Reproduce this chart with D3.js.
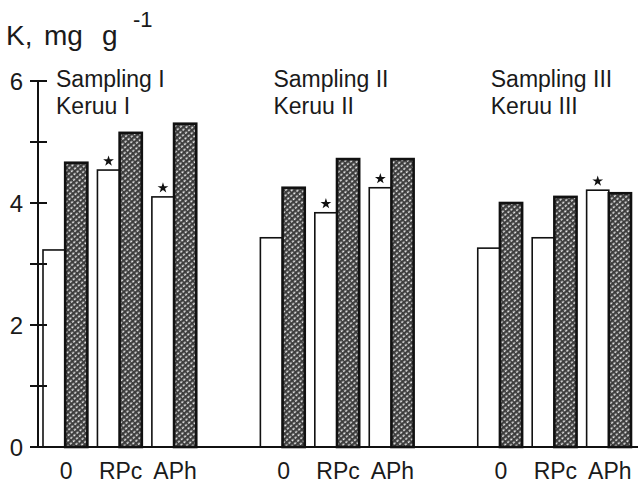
<!DOCTYPE html>
<html>
<head>
<meta charset="utf-8">
<script src="https://cdnjs.cloudflare.com/ajax/libs/d3/7.8.5/d3.min.js"></script>
<style>
    body { margin: 0; background: #fff; }
    text { font-family: "Liberation Sans", Arial, sans-serif; fill: #1a1a1a; }
</style>
</head>
<body>
<svg id="chart" width="638" height="487"></svg>
<script>
// samplings (groups), treatments and the two series per treatment
const samplings = ["I", "II", "III"];
const samplingTitles = ["Sampling I", "Sampling II", "Sampling III"];
const keruuTitles = ["Keruu I", "Keruu II", "Keruu III"];
const treatments = ["0", "RPc", "APh"];
const series = ["open", "hatched"];

// K, mg g-1
const openValues = [
    [3.23, 4.54, 4.10],
    [3.43, 3.84, 4.25],
    [3.26, 3.43, 4.21],
];
const hatchedValues = [
    [4.66, 5.15, 5.30],
    [4.25, 4.72, 4.72],
    [4.00, 4.10, 4.16],
];
// star marks over the open bars
const starred = [
    [false, true, true],
    [false, true, true],
    [false, false, true],
];
const yTicks = [0, 2, 4, 6];
const yMinorTicks = [1, 3, 5];

const svg = d3.select("#chart");

// pattern for the shaded bars
const defs = svg.append("defs");
const pat = defs
    .append("pattern")
    .attr("id", "hatch")
    .attr("patternUnits", "userSpaceOnUse")
    .attr("width", 4)
    .attr("height", 4)
    .attr("patternTransform", "rotate(-40)");
pat.append("rect").attr("width", 4).attr("height", 4).attr("fill", "#3a3a3a");
pat.append("rect")
    .attr("x", 0)
    .attr("y", 0.5)
    .attr("width", 2.4)
    .attr("height", 1.6)
    .attr("fill", "#e8e8e8");

const y = d3.scaleLinear().domain([0, 6]).range([447, 81]);

const xGroup = d3
    .scaleBand()
    .domain(samplings)
    .range([43, 631])
    .paddingInner(0.295)
    .paddingOuter(0);

const xTreat = d3
    .scaleBand()
    .domain(treatments)
    .range([0, xGroup.bandwidth()])
    .paddingInner(0.185)
    .paddingOuter(0);

const xSeries = d3
    .scaleBand()
    .domain(series)
    .range([0, xTreat.bandwidth()])
    .padding(0);

// flatten to bar records
const bars = [];
samplings.forEach((s, i) => {
    treatments.forEach((t, j) => {
        bars.push({ s, t, k: "open", v: openValues[i][j], star: starred[i][j] });
        bars.push({ s, t, k: "hatched", v: hatchedValues[i][j], star: false });
    });
});
const barX = (d) => xGroup(d.s) + xTreat(d.t) + xSeries(d.k);

// bars
svg.append("g")
    .selectAll("rect")
    .data(bars)
    .join("rect")
    .attr("x", (d) => barX(d))
    .attr("y", (d) => y(d.v))
    .attr("width", xSeries.bandwidth())
    .attr("height", (d) => y(0) - y(d.v))
    .attr("fill", (d) => (d.k === "open" ? "#fff" : "url(#hatch)"))
    .attr("stroke", "#111")
    .attr("stroke-width", (d) => (d.k === "open" ? 1.6 : 2.6));

// stars
svg.append("g")
    .selectAll("path")
    .data(bars.filter((d) => d.star))
    .join("path")
    .attr("d", d3.symbol(d3.symbolStar, 36))
    .attr("transform", (d) => `translate(${barX(d) + xSeries.bandwidth() / 2}, ${y(d.v) - 9})`)
    .attr("fill", "#111");

// y axis
const axis = svg.append("g").attr("stroke", "#111").attr("stroke-width", 2);
axis.append("line")
    .attr("x1", 38).attr("x2", 38)
    .attr("y1", y(0)).attr("y2", y(6));
axis.selectAll(".tick")
    .data(yTicks.concat(yMinorTicks))
    .join("line")
    .attr("x1", 30).attr("x2", 47)
    .attr("y1", (d) => y(d)).attr("y2", (d) => y(d));
// baseline
axis.append("line")
    .attr("x1", 30).attr("x2", 638)
    .attr("y1", y(0)).attr("y2", y(0));

svg.append("g")
    .selectAll("text")
    .data(yTicks)
    .join("text")
    .attr("x", 23)
    .attr("y", (d) => y(d))
    .attr("dy", "0.36em")
    .attr("text-anchor", "end")
    .attr("font-size", 24)
    .text((d) => d);

// axis title
const title = svg.append("text").attr("x", 6).attr("y", 45).attr("font-size", 28);
title.append("tspan").text("K,");
title.append("tspan").attr("x", 44).text("mg");
title.append("tspan").attr("x", 102).text("g");
title.append("tspan").attr("x", 133).attr("y", 27).attr("font-size", 22).text("-1");

// category labels
svg.append("g")
    .selectAll("text")
    .data(bars.filter((d) => d.k === "open"))
    .join("text")
    .attr("x", (d) => xGroup(d.s) + xTreat(d.t) + xSeries.bandwidth() + 1)
    .attr("y", 479)
    .attr("text-anchor", "middle")
    .attr("font-size", 23)
    .text((d) => d.t);

// group titles
const groupTitle = svg
    .append("g")
    .selectAll("text")
    .data(samplings)
    .join("text")
    .attr("font-size", 23)
    .attr("x", (d) => xGroup(d) + 13);
groupTitle.append("tspan").attr("y", 87).text((d, i) => samplingTitles[i]);
groupTitle.append("tspan")
    .attr("x", (d) => xGroup(d) + 13)
    .attr("y", 114)
    .text((d, i) => keruuTitles[i]);
</script>
</body>
</html>
